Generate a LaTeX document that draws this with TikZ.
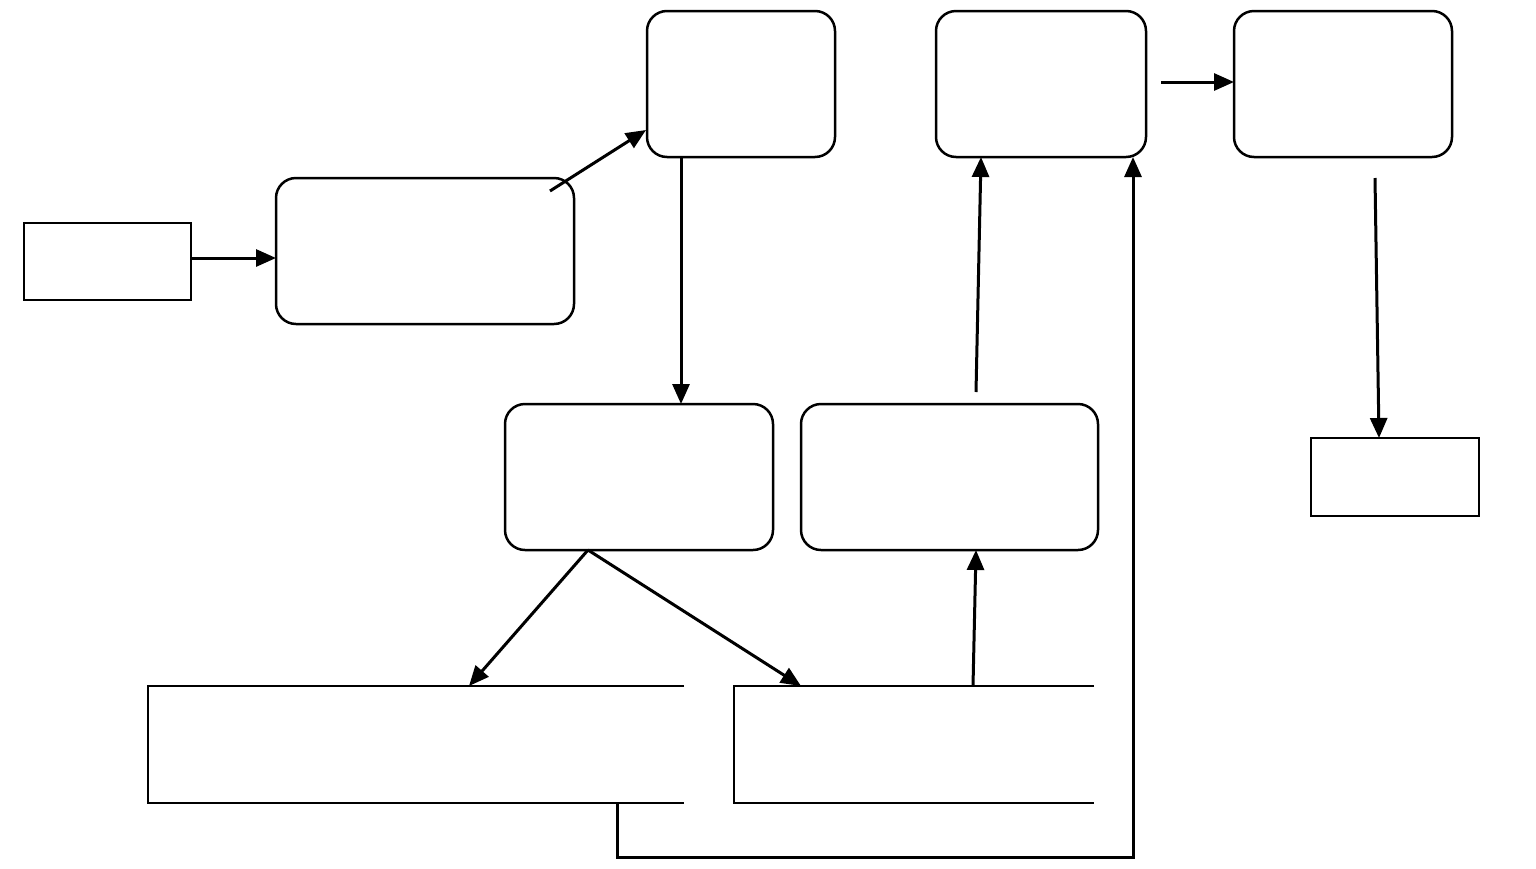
\documentclass[tikz,border=0pt]{standalone}
\usetikzlibrary{arrows.meta}
\begin{document}
\begin{tikzpicture}[x=1pt,y=-1pt,
  plainbox/.style={draw,line width=2.5pt,inner sep=0pt,outer sep=0pt},
  roundbox/.style={plainbox,rounded corners=20pt},
  arr/.style={line width=3pt,-{Triangle[length=20pt,width=17pt]}},
  ln/.style={line width=2.6pt},
]
\useasboundingbox[fill=white] (0,0) rectangle (1536,868);
\node[plainbox,minimum width=167pt,minimum height=77pt] (A) at (107.5,261.5) {};
\node[roundbox,minimum width=298pt,minimum height=146pt] (B) at (425,251) {};
\node[roundbox,minimum width=188pt,minimum height=146pt] (C) at (741,84) {};
\node[roundbox,minimum width=210pt,minimum height=146pt] (D) at (1041,84) {};
\node[roundbox,minimum width=218pt,minimum height=146pt] (E) at (1343,84) {};
\node[plainbox,minimum width=168pt,minimum height=78pt] (F) at (1395,477) {};
\node[roundbox,minimum width=268pt,minimum height=146pt] (G) at (639,477) {};
\node[roundbox,minimum width=297pt,minimum height=146pt] (H) at (949.5,477) {};
% data stores
\coordinate (S1tl) at (148,686);
\coordinate (S1tr) at (684,686);
\coordinate (S1bl) at (148,803);
\coordinate (S1br) at (684,803);
\coordinate (S2tl) at (734,686);
\coordinate (S2tr) at (1094,686);
\coordinate (S2bl) at (734,803);
\coordinate (S2br) at (1094,803);
\draw[ln] (S1tr) -- (S1tl) -- (S1bl) -- (S1br);
\draw[ln] (S2tr) -- (S2tl) -- (S2bl) -- (S2br);
% connector points
\coordinate (ab0) at (191,258);
\coordinate (ab1) at (276,258);
\coordinate (bc0) at (550,191);
\coordinate (bc1) at (646,130);
\coordinate (cg0) at (681,157);
\coordinate (cg1) at (681,404);
\coordinate (g0) at (588,550);
\coordinate (s1in) at (469,686);
\coordinate (s2in) at (801,686);
\coordinate (s2out) at (973,686);
\coordinate (hin) at (976,550);
\coordinate (hout) at (976,392);
\coordinate (din) at (981,157);
\coordinate (s1out) at (617,803);
\coordinate (lp1) at (617,857);
\coordinate (lp2) at (1133,857);
\coordinate (din2) at (1133,157);
\coordinate (de0) at (1161,82);
\coordinate (de1) at (1234,82);
\coordinate (ef0) at (1375,178);
\coordinate (ef1) at (1379,438);
\draw[arr] (ab0) -- (ab1);
\draw[arr] (bc0) -- (bc1);
\draw[arr] (cg0) -- (cg1);
\draw[arr] (g0) -- (s1in);
\draw[arr] (g0) -- (s2in);
\draw[arr] (s2out) -- (hin);
\draw[arr] (hout) -- (din);
\draw[arr] (s1out) -- (lp1) -- (lp2) -- (din2);
\draw[arr] (de0) -- (de1);
\draw[arr] (ef0) -- (ef1);
\end{tikzpicture}
\end{document}
